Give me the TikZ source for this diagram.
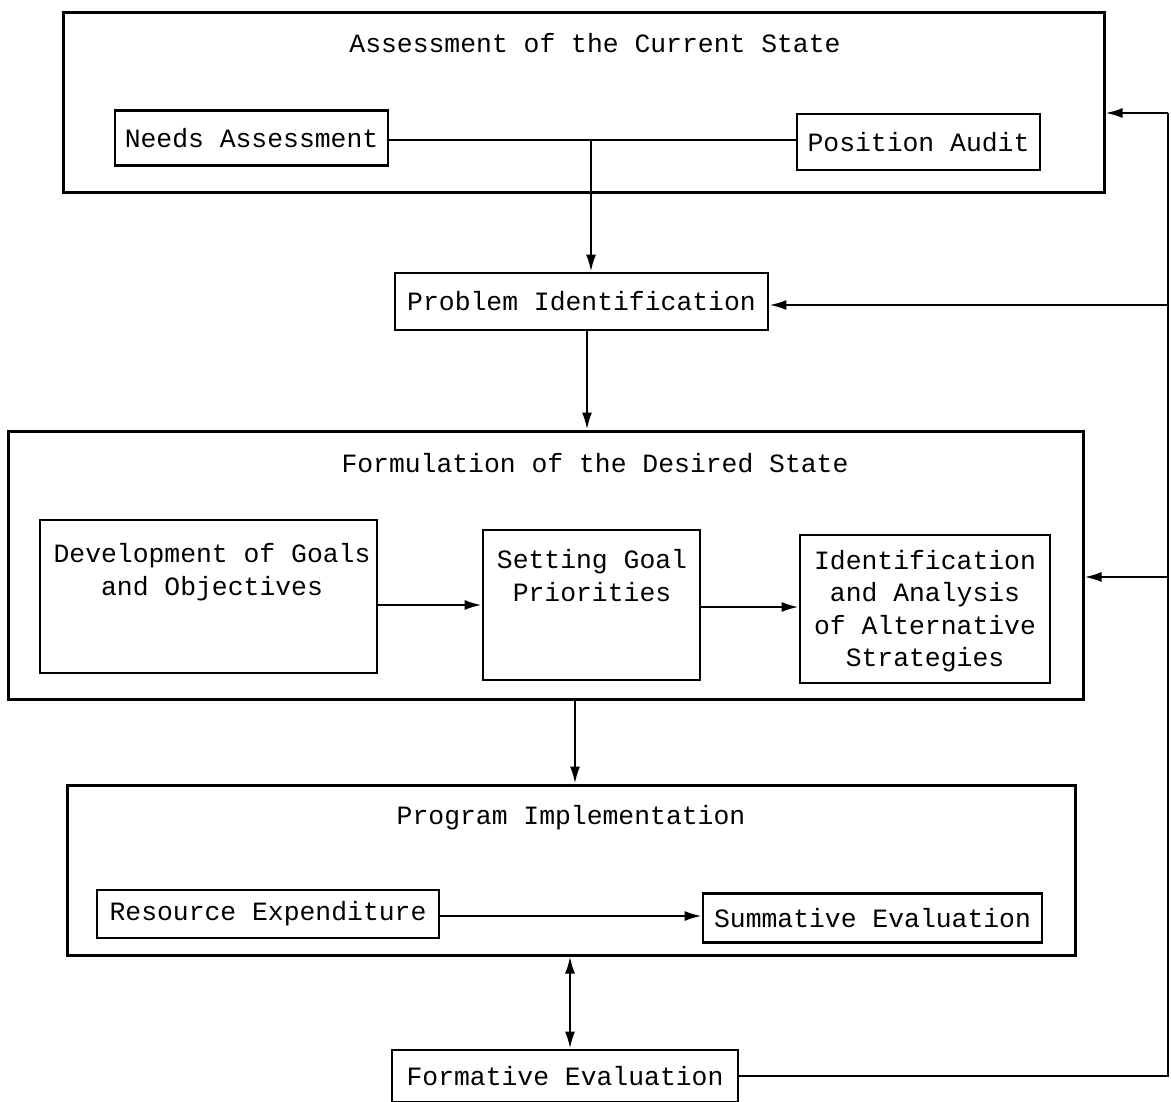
\documentclass[tikz,border=0pt]{standalone}
\usepackage{fontspec}
\setmonofont{Liberation Mono}
\usetikzlibrary{arrows.meta}
\begin{document}
\begin{tikzpicture}[x=1pt,y=-1pt,
  every node/.style={font=\ttfamily\fontsize{26.4}{32.5}\selectfont, inner sep=0pt},
  box/.style={draw, line width=2.8pt, rectangle},
  cont/.style={draw, line width=3pt, rectangle},
  lbl/.style={align=center},
  conn/.style={line width=2.2pt},
  arr/.style={conn, -{Latex[length=17pt,width=10pt]}},
  darr/.style={conn, {Latex[length=17pt,width=10pt]}-{Latex[length=17pt,width=10pt]}}]
\useasboundingbox[fill=white] (0,0) rectangle (1171,1102);

% containers
\node[cont, minimum width=1041pt, minimum height=180pt] (assess) at (583.5,103) {};
\node[lbl] (assessT) at (595,43) {Assessment of the Current State};
\node[cont, minimum width=1075pt, minimum height=268pt] (form) at (545.5,565) {};
\node[lbl] (formT) at (595,463) {Formulation of the Desired State};
\node[cont, minimum width=1008pt, minimum height=170pt] (prog) at (571,870) {};
\node[lbl] (progT) at (571,818) {Program Implementation};

% inner boxes
\node[box, minimum width=273pt, minimum height=55pt] (needs) at (251.5,138) {Needs Assessment};
\node[box, minimum width=243pt, minimum height=56pt] (audit) at (918.5,142) {Position Audit};
\node[box, minimum width=373pt, minimum height=57pt] (problem) at (581.5,301.5) {Problem Identification};

\node[box, minimum width=337pt, minimum height=153pt] (dev) at (208.5,596.5) {};
\node[lbl] (devT) at (212,572) {Development of Goals\\and Objectives};
\node[box, minimum width=217pt, minimum height=150pt] (setting) at (591.5,605) {};
\node[lbl] (settingT) at (592,575.5) {Setting Goal\\Priorities};
\node[box, minimum width=250pt, minimum height=148pt] (ident) at (925,609) {};
\node[lbl] (identT) at (925,611) {Identification\\and Analysis\\of Alternative\\Strategies};

\node[box, minimum width=342pt, minimum height=48pt] (res) at (268,914) {Resource Expenditure};
\node[box, minimum width=339pt, minimum height=49pt] (summ) at (872.5,918) {Summative Evaluation};
\node[box, minimum width=346pt, minimum height=52pt] (formative) at (565,1076) {Formative Evaluation};

% connectors
\coordinate (j) at (591,140);
\draw[conn] (needs.east |- j) -- (j) -- (audit.west |- j);
\draw[arr] (j) -- (j |- problem.north);
\coordinate (pf) at (587,0);
\draw[arr] (pf |- problem.south) -- (pf |- form.north);
\draw[arr] (dev.east |- setting.west) -- (setting.west);
\draw[arr] (setting.east |- 0,607) -- (ident.west |- 0,607);
\coordinate (fp) at (575,0);
\draw[arr] (fp |- form.south) -- (fp |- prog.north);
\draw[arr] (res.east |- 0,916) -- (summ.west |- 0,916);
\coordinate (dd) at (570,0);
\draw[darr] (dd |- prog.south) -- (dd |- formative.north);

% feedback loop
\coordinate (ftop) at (1168,113);
\coordinate (fpi) at (1168,305);
\coordinate (fmid) at (1168,577);
\draw[conn] (formative.east) -| (ftop);
\draw[arr] (ftop) -- (ftop -| assess.east);
\draw[arr] (fpi) -- (fpi -| problem.east);
\draw[arr] (fmid) -- (fmid -| form.east);
\end{tikzpicture}
\end{document}
